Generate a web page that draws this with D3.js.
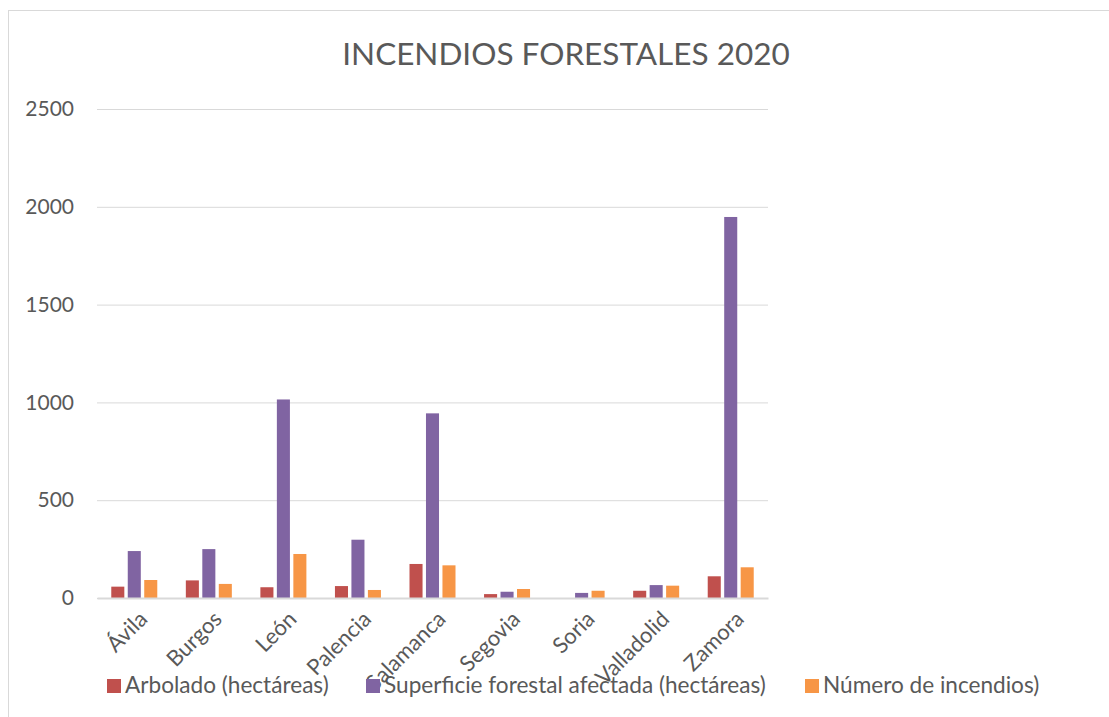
<!DOCTYPE html>
<html>
<head>
<meta charset="utf-8">
<script src="https://cdn.jsdelivr.net/npm/d3@7/dist/d3.min.js"></script>
<style>
  html, body { margin: 0; padding: 0; background: #fff; }
  svg text { font-family: "Lato", "Liberation Sans", sans-serif; fill: #595959; }
</style>
</head>
<body>
<svg id="chart" width="1109" height="717"></svg>
<script>
// Provinces of Castilla y León
const provinces = ["Ávila", "Burgos", "León", "Palencia", "Salamanca", "Segovia", "Soria", "Valladolid", "Zamora"];
// Series values per province
const arbolado = [58, 90, 55, 61, 174, 20, 0, 37, 111];
const superficie = [240, 250, 1015, 298, 944, 32, 26, 66, 1948];
const numeroIncendios = [92, 72, 225, 41, 167, 46, 37, 63, 157];
const seriesNames = ["Arbolado (hectáreas)", "Superficie forestal afectada (hectáreas)", "Número de incendios)"];
const seriesColors = ["#C0504D", "#8064A2", "#F79646"];
const yTicks = [0, 500, 1000, 1500, 2000, 2500];

const svg = d3.select("#chart");
const plot = { left: 97, right: 768, top: 109, bottom: 598 };

// chart frame
svg.append("rect")
  .attr("x", 8.5).attr("y", 10.5)
  .attr("width", 1120).attr("height", 720)
  .attr("fill", "#fff").attr("stroke", "#d9d9d9").attr("stroke-width", 1);

svg.append("text")
  .attr("x", 566).attr("y", 65)
  .attr("text-anchor", "middle")
  .style("font-size", "31.5px").style("font-weight", 400)
  .text("INCENDIOS FORESTALES 2020");

const x = d3.scaleBand().domain(provinces).range([plot.left, plot.right]);
const y = d3.scaleLinear().domain([0, 2500]).range([plot.bottom, plot.top]);

// horizontal gridlines + value labels
const yAxis = d3.axisLeft(y).tickValues(yTicks).tickFormat(d3.format("d"))
  .tickSize(-(plot.right - plot.left)).tickPadding(23);
const gy = svg.append("g").attr("transform", `translate(${plot.left},0)`).call(yAxis);
gy.select(".domain").remove();
gy.selectAll(".tick line").attr("stroke", "#d9d9d9").attr("stroke-width", 1);
gy.selectAll(".tick text").style("font-size", "21px").attr("fill", "#595959");

const series = [arbolado, superficie, numeroIncendios];
const barW = x.bandwidth() * 0.175;
const barStep = x.bandwidth() * 0.221;

series.forEach((vals, si) => {
  svg.append("g").selectAll("rect")
    .data(provinces.map((p, i) => ({ p, v: vals[i] })))
    .join("rect")
    .attr("x", d => x(d.p) + x.bandwidth() / 2 + (si - 1) * barStep - barW / 2)
    .attr("y", d => y(d.v))
    .attr("width", barW)
    .attr("height", d => y(0) - y(d.v))
    .attr("fill", seriesColors[si]);
});

// category axis
const gx = svg.append("g").attr("transform", `translate(0,${plot.bottom})`)
  .call(d3.axisBottom(x).tickSize(0).tickPadding(0));
gx.select(".domain").attr("stroke", "#d9d9d9").attr("stroke-width", 2);
gx.selectAll(".tick text")
  .style("font-size", "22px")
  .attr("text-anchor", "end")
  .attr("dy", "0.35em")
  .attr("transform", "translate(9,17) rotate(-45)");

// legend
const legendX = [107, 366, 805];
const lg = svg.append("g");
seriesNames.forEach((name, i) => {
  lg.append("rect").attr("x", legendX[i]).attr("y", 679).attr("width", 14).attr("height", 14).attr("fill", seriesColors[i]);
  lg.append("text").attr("x", legendX[i] + 18).attr("y", 693).style("font-size", "22.6px").text(name);
});
</script>
</body>
</html>
